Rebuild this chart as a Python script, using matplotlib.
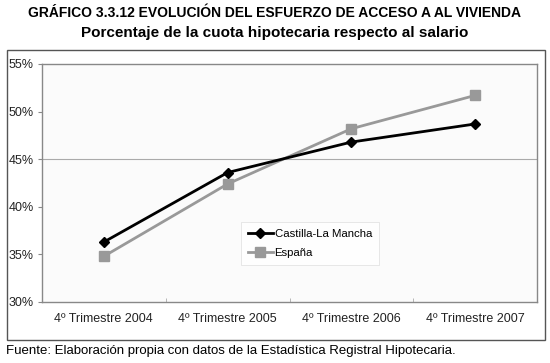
import matplotlib
matplotlib.use("Agg")
import matplotlib.pyplot as plt
from matplotlib.patches import Rectangle

plt.rcParams['font.family'] = ['Liberation Sans', 'DejaVu Sans']

categories = ['4º Trimestre 2004', '4º Trimestre 2005', '4º Trimestre 2006', '4º Trimestre 2007']
castilla = [36.3, 43.6, 46.8, 48.7]
espana = [34.8, 42.4, 48.2, 51.7]
y_ticks = [30, 35, 40, 45, 50, 55]

fig = plt.figure(figsize=(5.5, 3.63), dpi=100)
fig.patch.set_facecolor('white')

# outer chart frame
fig.patches.append(Rectangle((7 / 550, 23 / 363), 538 / 550, 290 / 363,
                             transform=fig.transFigure, fill=False,
                             edgecolor='#555555', linewidth=1.0))

ax = fig.add_axes([42 / 550, 61 / 363, 495 / 550, 238 / 363])
ax.set_facecolor('#fbfbfb')

x = range(len(categories))
ax.axhline(45, color='#aaaaaa', linewidth=0.8, zorder=1)
ax.plot(x, castilla, color='black', linewidth=2, marker='D', markersize=5,
        label='Castilla-La Mancha', zorder=3)
ax.plot(x, espana, color='#999999', linewidth=2, marker='s', markersize=7,
        label='España', zorder=2)

ax.set_xlim(-0.5, 3.5)
ax.set_ylim(30, 55)
ax.set_yticks(y_ticks)
ax.set_yticklabels([f'{v}%' for v in y_ticks], fontsize=9, color='#222222')
ax.set_xticks(list(x))
ax.set_xticklabels(categories, fontsize=9, color='#222222')
ax.set_xticks([0.5, 1.5, 2.5], minor=True)
ax.tick_params(axis='x', which='major', length=0, pad=8)
ax.tick_params(axis='x', which='minor', length=3, color='#aaaaaa', direction='in')
ax.tick_params(axis='y', length=3, color='#888888', pad=3)
for s in ax.spines.values():
    s.set_color('#888888')
    s.set_linewidth(1.0)

leg = ax.legend(loc='upper left', bbox_to_anchor=(199 / 495, 80 / 238), fontsize=8.2,
                frameon=True, fancybox=False, handlelength=2.2, borderpad=0.6,
                labelspacing=0.8, handletextpad=0.15, borderaxespad=0)
leg.get_frame().set_edgecolor('#dddddd')
leg.get_frame().set_facecolor('white')
leg.get_frame().set_linewidth(0.6)

fig.text(0.5, 1 - 13 / 363, 'GRÁFICO 3.3.12 EVOLUCIÓN DEL ESFUERZO DE ACCESO A AL VIVIENDA',
         ha='center', va='center', fontsize=10, fontweight='bold')
fig.text(0.5, 1 - 33 / 363, 'Porcentaje de la cuota hipotecaria respecto al salario',
         ha='center', va='center', fontsize=11, fontweight='bold')
fig.text(6 / 550, 1 - 351 / 363,
         'Fuente: Elaboración propia con datos de la Estadística Registral Hipotecaria.',
         ha='left', va='center', fontsize=9.5)

fig.savefig('out.png', dpi=100)
